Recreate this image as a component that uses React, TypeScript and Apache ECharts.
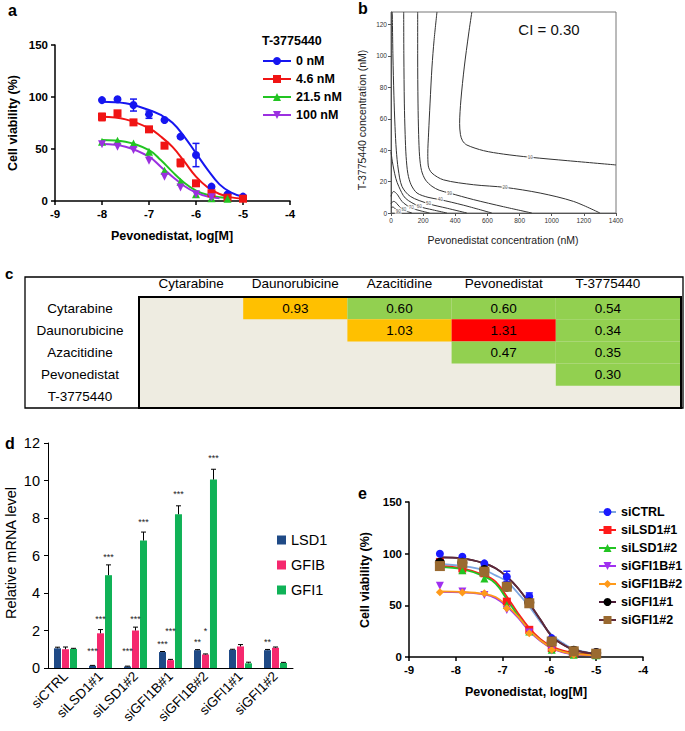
import React, { useEffect, useRef } from "react";
import * as echarts from "echarts";

const FONT = "'Liberation Sans', Arial, Helvetica, sans-serif";

// ---------- Panel a ----------
const aDoseX = [-8, -7.67, -7.33, -7, -6.67, -6.33, -6, -5.67, -5.33, -5];
const aNames = ["0 nM", "4.6 nM", "21.5 nM", "100 nM"];
const aColors = ["#1616F0", "#F01414", "#22C422", "#9B30E0"];
const aSymbols = ["circle", "rect", "triangle", "triangle"];
const aRotate = [0, 0, 0, 180];
const aPoints = [
  [97, 97.8, 92.3, 83.3, 77.9, 61.9, 44.2, 13.8, 6.4, 4.2],
  [81, 84.3, 75.6, 68.9, 53.2, 36.9, 17, 7.4, 3.2, 2.2],
  [57, 58, 55.4, 47.4, 29.2, 18.6, 6.4, 2.6, 2.2, null],
  [54.5, 52.2, 49, 38.8, 23.4, 13.1, 6.4, 3.5, null, null],
];
const aFitX = [-8, -7.5, -7, -6.75, -6.5, -6.25, -6, -5.75, -5.5, -5.25, -5];
const aFits = [
  [95.5, 94, 87.5, 82.7, 75.3, 62, 46, 30, 16, 8, 4],
  [81, 78.5, 70, 62, 52, 38, 23.4, 13, 6.7, 3.5, 2.2],
  [58.7, 57, 49, 39.4, 28, 17.6, 10, 5.8, 3.5, 2.6, null],
  [54.8, 52.2, 42.6, 33, 23.4, 14.4, 8, 4.2, 2.6, null, null],
];
// [x, low, high] per series
const aErrors = [
  [[-7.33, 86.5, 98], [-7, 79.5, 86.5], [-6, 33, 55.4]],
  [[-8, 77.2, 84.3], [-6.33, 33, 40]],
  [],
  [],
];

// ---------- Panel b (contours) ----------
const bLevels = ["10", "20", "30", "40", "50", "60", "70", "80", "90"];
const bContours = [
  [[503, 128], [483, 114], [456, 93], [435, 72], [427, 57], [432, 50], [445, 46], [472, 43.3], [576, 39.7], [700, 37.5], [866, 35.5], [1100, 33.3], [1400, 30.6]],
  [[286, 128], [268, 110], [255, 93], [243, 70], [234, 51], [229, 38], [232, 30], [255, 25.4], [327, 21.1], [514, 18], [710, 16.3], [928, 12.7], [1135, 7.4], [1300, 0]],
  [[166, 128], [166, 100], [168, 70], [172, 50], [178, 36], [190, 27], [215, 21], [255, 17], [300, 14.5], [364, 12.7], [514, 8.5], [700, 4], [876, 0]],
  [[79, 128], [80, 100], [83, 70], [88, 50], [94, 36], [105, 25], [125, 18], [162, 12.7], [230, 10], [306, 8.5], [450, 5], [627, 0]],
  [[8, 128], [12, 100], [18, 75], [25, 55], [33, 40], [45, 28], [68, 17], [120, 10.6], [234, 5.9], [350, 3], [472, 0]],
  [[0, 39], [8, 33], [17, 28], [30, 22], [48, 17], [89, 9.5], [176, 4.2], [260, 2], [348, 0]],
  [[0, 10.6], [8, 13], [17, 13.7], [28, 13], [41, 11.6], [60, 8.5], [79, 6.3], [126, 3.2], [180, 1.5], [240, 0]],
  [[0, 5.9], [8, 7], [17, 7.4], [27, 7], [37, 5.9], [68, 2.5], [100, 1], [130, 0]],
  [[0, 3.2], [6, 3.7], [12, 3.8], [22, 3.2], [37, 1.7], [68, 0]],
];
const bLabelAt = [[866, 35.5], [710, 16.3], [364, 12.7], [306, 8.5], [234, 5.9], [176, 4.2], [126, 3.2], [80, 2], [45, 1.1]];

// ---------- Panel c (table) ----------
const drugs = ["Cytarabine", "Daunorubicine", "Azacitidine", "Pevonedistat", "T-3775440"];
// [row, col, CI]
const ciValues = [
  [0, 1, 0.93], [0, 2, 0.6], [0, 3, 0.6], [0, 4, 0.54],
  [1, 2, 1.03], [1, 3, 1.31], [1, 4, 0.34],
  [2, 3, 0.47], [2, 4, 0.35],
  [3, 4, 0.3],
];

// ---------- Panel d (bars) ----------
const dCats = ["siCTRL", "siLSD1#1", "siLSD1#2", "siGFI1B#1", "siGFI1B#2", "siGFI1#1", "siGFI1#2"];
const dNames = ["LSD1", "GFIB", "GFI1"];
const dColors = ["#1F4A86", "#F5286E", "#10B257"];
const dValues = [
  [1.05, 0.12, 0.08, 0.85, 0.95, 0.97, 0.95],
  [1.0, 1.85, 2.0, 0.42, 0.72, 1.15, 1.08],
  [1.02, 4.95, 6.8, 8.2, 10.05, 0.25, 0.27],
];
const dErrors = [
  [0.06, 0.02, 0.02, 0.03, 0.03, 0.03, 0.04],
  [0.12, 0.2, 0.18, 0.04, 0.03, 0.1, 0.04],
  [0.03, 0.55, 0.45, 0.45, 0.55, 0.06, 0.03],
];
const dStars = [
  ["", "***", "***", "***", "**", "", "**"],
  ["", "***", "***", "***", "*", "", ""],
  ["", "***", "***", "***", "***", "", ""],
];
const dStarY = [
  [0, 0.9, 0.9, 1.3, 1.4, 0, 1.4],
  [0, 2.6, 2.6, 2.0, 2.0, 0, 0],
  [0, 5.9, 7.8, 9.3, 11.2, 0, 0],
];

// ---------- Panel e ----------
const eDoseX = [-8.34, -7.86, -7.39, -6.91, -6.43, -5.95, -5.48, -5.0];
const eNames = ["siCTRL", "siLSD1#1", "siLSD1#2", "siGFI1B#1", "siGFI1B#2", "siGFI1#1", "siGFI1#2"];
const eColors = ["#1A1AFF", "#FF1A1A", "#22C422", "#A030F0", "#FF9A1A", "#000000", "#9A6A30"];
const eFitColors = ["#7EA6E0", "#FF1A1A", "#22C422", "#A030F0", "#FF9A1A", "#4A1A35", "#5E2A3A"];
const eSymbols = ["circle", "rect", "triangle", "triangle", "diamond", "circle", "rect"];
const eRotate = [0, 0, 0, 180, 0, 0, 0];
const eSizes = [8, 8, 8, 8, 8, 10, 10];
const ePoints = [
  [100, 97, 90.6, 77.7, 58.5, 18.3, 6.4, 4.8],
  [92, 85.8, 81, 53.6, 26.3, 8.7, 2.9, 2.2],
  [89, 84, 76, 50.4, 24.7, 7, 2.2, 1.6],
  [69, 63.3, 60, 45.6, 23.8, 6.4, 2.2, 1.9],
  [62.6, 62.3, 61.7, 47.2, 23.1, 7.1, 2.2, 1.9],
  [91.2, 91.2, 84.2, 68.1, 52.7, 15.1, 6.1, 3.9],
  [88, 90.6, 82.6, 68, 52, 15, 5.5, 3.2],
];
const eFitX = [-8.34, -7.86, -7.39, -7.15, -6.91, -6.67, -6.43, -6.19, -5.95, -5.71, -5.48, -5.0];
const eFits = [
  [90, 88, 84, 79, 73, 61.7, 49, 34, 21.5, 13.5, 7.7, 3.2],
  [88, 85.8, 79.3, 73, 58.5, 42.4, 28, 17.3, 10.3, 6.1, 3.9, 1.9],
  [87, 85, 78, 71, 56, 40, 26, 16, 9, 5, 3, 1.5],
  [63, 62.5, 60.5, 57, 49, 38, 25, 15.5, 8.5, 4.5, 2.5, 1.5],
  [63.5, 63, 61, 58, 50, 39, 26, 16, 9, 5, 3, 1.5],
  [96.4, 95.4, 90.6, 85.8, 77.7, 66.5, 52, 36, 20, 12, 7, 3],
  [96.4, 95.4, 90.6, 85.8, 77.7, 66.5, 52, 36, 20, 12, 7, 3],
];
const eErrors = [
  [[-6.91, 73, 83], [-6.43, 53, 62]],
  [[-7.86, 81, 90]],
  [], [], [], [], [],
];

function pairs(xs: number[], ys: (number | null)[]) {
  const out: number[][] = [];
  xs.forEach((x, i) => {
    const y = ys[i];
    if (y !== null && y !== undefined) out.push([x, y]);
  });
  return out;
}

function errorSeries(data: number[][], color: string, xi: number) {
  return {
    type: "custom",
    xAxisIndex: xi,
    yAxisIndex: xi,
    data,
    encode: { x: 0, y: [1, 2] },
    clip: false,
    z: 4,
    renderItem: (_p: any, api: any) => {
      const x = api.value(0);
      const lo = api.coord([x, api.value(1)]);
      const hi = api.coord([x, api.value(2)]);
      const w = 3.5;
      const st = { stroke: color, lineWidth: 1.5 };
      return {
        type: "group",
        children: [
          { type: "line", shape: { x1: lo[0], y1: lo[1], x2: hi[0], y2: hi[1] }, style: st },
          { type: "line", shape: { x1: hi[0] - w, y1: hi[1], x2: hi[0] + w, y2: hi[1] }, style: st },
          { type: "line", shape: { x1: lo[0] - w, y1: lo[1], x2: lo[0] + w, y2: lo[1] }, style: st },
        ],
      };
    },
  };
}

function doseAxes(idx: number) {
  const x = {
    type: "value", gridIndex: idx, min: -9, max: -4, interval: 1,
    axisLine: { onZero: false, lineStyle: { color: "#000", width: 1.5 } },
    axisTick: { length: 4, lineStyle: { color: "#000", width: 1.5 } },
    axisLabel: { color: "#000", fontWeight: "bold", fontSize: 11.5, fontFamily: FONT, margin: 7 },
    splitLine: { show: false },
  };
  const y = {
    type: "value", gridIndex: idx, min: 0, max: 150, interval: 50,
    axisLine: { show: true, onZero: false, lineStyle: { color: "#000", width: 1.5 } },
    axisTick: { show: true, length: 4, lineStyle: { color: "#000", width: 1.5 } },
    axisLabel: { color: "#000", fontWeight: "bold", fontSize: 11.5, fontFamily: FONT, margin: 7 },
    splitLine: { show: false },
  };
  return [x, y];
}

function txt(x: number, y: number, text: string, o: any = {}) {
  return {
    type: "text", x, y, rotation: o.rotation || 0, z: 100,
    style: {
      text, fill: o.fill || "#000", fontSize: o.fontSize || 12, fontWeight: o.fontWeight || "normal",
      fontFamily: FONT, align: o.align || "center", verticalAlign: o.verticalAlign || "middle",
    },
  };
}

const TABLE_LAST_EXTRA = 21; // last column of the table is wider

export default function App() {
  const ref = useRef<HTMLDivElement>(null);
  useEffect(() => {
    if (!ref.current) return;
    const chart = echarts.init(ref.current, null, { renderer: "svg" });
    const [ax, ay] = doseAxes(0);
    const [ex, ey] = doseAxes(4);

    const series: any[] = [];
    // Panel a
    aNames.forEach((name, i) => {
      series.push({
        type: "line", name, xAxisIndex: 0, yAxisIndex: 0, data: pairs(aFitX, aFits[i]),
        smooth: 0.4, showSymbol: false, symbol: aSymbols[i], symbolRotate: aRotate[i], symbolSize: 8,
        itemStyle: { color: aColors[i] }, lineStyle: { color: aColors[i], width: 2 }, z: 2,
      });
    });
    aNames.forEach((name, i) => {
      series.push({
        type: "scatter", name: name + " data", xAxisIndex: 0, yAxisIndex: 0, data: pairs(aDoseX, aPoints[i]),
        symbol: aSymbols[i], symbolRotate: aRotate[i], symbolSize: 8, itemStyle: { color: aColors[i], opacity: 1 }, z: 5,
      });
      if (aErrors[i].length) series.push(errorSeries(aErrors[i], aColors[i], 0));
    });
    // Panel b
    bContours.forEach((c, i) => {
      series.push({
        type: "line", name: "contour " + bLevels[i], xAxisIndex: 1, yAxisIndex: 1, data: c,
        smooth: 0.3, showSymbol: false, symbol: "none", lineStyle: { color: "#333", width: 1 }, z: 2,
      });
    });
    series.push({
      type: "scatter", name: "contour labels", xAxisIndex: 1, yAxisIndex: 1,
      data: bLabelAt.map((p, i) => ({ value: p, name: bLevels[i] })), symbolSize: 0,
      label: { show: true, position: "inside", formatter: (p: any) => p.name, fontSize: 4.5, color: "#333", backgroundColor: "#fff", padding: [0, 1] },
      z: 6,
    });
    // Panel c
    series.push({
      type: "custom", name: "CI table", xAxisIndex: 2, yAxisIndex: 2,
      data: ciValues.map((r) => [r[1], r[0], r[2]]),
      encode: { x: 0, y: 1 }, z: 5, clip: false,
      renderItem: (_p: any, api: any) => {
        const col = api.value(0);
        const c = api.coord([col, api.value(1)]);
        const s = api.size([1, 1]);
        const v = api.value(2);
        const color = v > 1.1 ? "#FF0000" : v >= 0.9 ? "#FFC000" : "#92D050";
        const w = s[0] + (col === drugs.length - 1 ? TABLE_LAST_EXTRA : 0);
        return {
          type: "group",
          children: [
            { type: "rect", shape: { x: c[0] - s[0] / 2, y: c[1] - s[1] / 2, width: w, height: s[1] }, style: { fill: color } },
            { type: "text", x: c[0], y: c[1], style: { text: v.toFixed(2), fill: "#000", fontSize: 13.5, fontFamily: FONT, align: "center", verticalAlign: "middle" } },
          ],
        };
      },
    });
    // Panel d
    const offs = [-8, 0, 8];
    dNames.forEach((name, si) => {
      series.push({
        type: "bar", name, xAxisIndex: 3, yAxisIndex: 3, data: dValues[si], barWidth: 7, barGap: "14%",
        itemStyle: { color: dColors[si] }, z: 2,
      });
    });
    dNames.forEach((name, si) => {
      series.push({
        type: "custom", name: name + " err", xAxisIndex: 3, yAxisIndex: 3,
        data: dValues[si].map((v, i) => [i, v, v + dErrors[si][i], dStarY[si][i]]),
        encode: { x: 0, y: [1, 2] }, clip: false, z: 4,
        renderItem: (_p: any, api: any) => {
          const i = api.value(0);
          const b = api.coord([i, api.value(1)]);
          const t = api.coord([i, api.value(2)]);
          const sy = api.coord([i, api.value(3)]);
          const x = b[0] + offs[si];
          const st = { stroke: "#000", lineWidth: 1 };
          const children: any[] = [
            { type: "line", shape: { x1: x, y1: b[1], x2: x, y2: t[1] }, style: st },
            { type: "line", shape: { x1: x - 2.5, y1: t[1], x2: x + 2.5, y2: t[1] }, style: st },
          ];
          const s = dStars[si][i];
          if (s) children.push({ type: "text", x, y: sy[1], style: { text: s, fill: "#222", fontSize: 9, fontFamily: FONT, align: "center", verticalAlign: "middle" } });
          return { type: "group", children };
        },
      });
    });
    // Panel e
    eNames.forEach((name, i) => {
      series.push({
        type: "line", name, xAxisIndex: 4, yAxisIndex: 4, data: pairs(eFitX, eFits[i]),
        smooth: 0.4, showSymbol: false, symbol: eSymbols[i], symbolRotate: eRotate[i], symbolSize: 8,
        itemStyle: { color: eColors[i] }, lineStyle: { color: eFitColors[i], width: 1.8 }, z: 2,
      });
    });
    eNames.forEach((name, i) => {
      series.push({
        type: "scatter", name: name + " data", xAxisIndex: 4, yAxisIndex: 4, data: pairs(eDoseX, ePoints[i]),
        symbol: eSymbols[i], symbolRotate: eRotate[i], symbolSize: eSizes[i], itemStyle: { color: eColors[i], opacity: 1 }, z: 5,
      });
      if (eErrors[i].length) series.push(errorSeries(eErrors[i], eColors[i], 4));
    });

    const boldLegendText = { color: "#000", fontWeight: "bold", fontSize: 12.5, fontFamily: FONT, lineHeight: 14 };

    const option: any = {
      animation: false,
      backgroundColor: "#fff",
      textStyle: { fontFamily: FONT },
      grid: [
        { left: 55, top: 45, width: 235, height: 156 },
        { left: 391, top: 12, width: 225, height: 201, show: true, borderColor: "#777", borderWidth: 1 },
        { left: 139, top: 297, width: 521, height: 111, show: true, backgroundColor: "#EEECE1", borderWidth: 0 },
        { left: 48, top: 443, width: 245, height: 225 },
        { left: 409, top: 502, width: 234, height: 155 },
      ].map((g) => ({ containLabel: false, outerBoundsMode: "none", ...g })),
      xAxis: [
        ax,
        {
          type: "value", gridIndex: 1, min: 0, max: 1400, interval: 200,
          axisLine: { onZero: false, lineStyle: { color: "#555", width: 1 } },
          axisTick: { length: 3, lineStyle: { color: "#555" } },
          axisLabel: { color: "#333", fontSize: 6.5, margin: 4, fontFamily: FONT, formatter: (v: number) => String(v) },
          splitLine: { show: false },
        },
        {
          type: "category", gridIndex: 2, data: drugs, position: "top",
          axisLine: { show: false }, axisTick: { show: false },
          axisLabel: { color: "#000", fontSize: 13.5, margin: 7, interval: 0, fontFamily: FONT },
          splitLine: { show: false },
        },
        {
          type: "category", gridIndex: 3, data: dCats,
          axisLine: { lineStyle: { color: "#000", width: 1 } },
          axisTick: { length: 4, lineStyle: { color: "#000" } },
          axisLabel: { color: "#000", fontSize: 13.5, rotate: 45, margin: 6, interval: 0, fontFamily: FONT },
        },
        ex,
      ],
      yAxis: [
        ay,
        {
          type: "value", gridIndex: 1, min: 0, max: 128, interval: 20,
          axisLine: { show: true, onZero: false, lineStyle: { color: "#555", width: 1 } },
          axisTick: { show: true, length: 3, lineStyle: { color: "#555" } },
          axisLabel: { color: "#333", fontSize: 6.5, margin: 4, showMaxLabel: false, fontFamily: FONT },
          splitLine: { show: false },
        },
        {
          type: "category", gridIndex: 2, data: drugs, inverse: true,
          axisLine: { show: false }, axisTick: { show: false },
          axisLabel: { color: "#000", fontSize: 13.5, align: "center", margin: 59, interval: 0, fontFamily: FONT },
          splitLine: { show: false },
        },
        {
          type: "value", gridIndex: 3, min: 0, max: 12, interval: 2,
          axisLine: { show: true, lineStyle: { color: "#000", width: 1 } },
          axisTick: { show: true, length: 4, lineStyle: { color: "#000" } },
          axisLabel: { color: "#000", fontSize: 14.5, margin: 8, fontFamily: FONT },
          splitLine: { show: false },
        },
        ey,
      ],
      legend: [
        {
          data: aNames, left: 262, top: 54, orient: "vertical", itemWidth: 28, itemHeight: 10, itemGap: 4,
          selectedMode: false, textStyle: boldLegendText, padding: 0,
        },
        {
          data: dNames, left: 277, top: 532, orient: "vertical", icon: "rect", itemWidth: 9, itemHeight: 9, itemGap: 9,
          selectedMode: false, textStyle: { color: "#000", fontSize: 14.5, fontFamily: FONT, lineHeight: 16 }, padding: 0,
        },
        {
          data: eNames, left: 598, top: 505, orient: "vertical", itemWidth: 17, itemHeight: 10, itemGap: 4,
          selectedMode: false, textStyle: boldLegendText, padding: 0,
        },
      ],
      graphic: [
        {
          type: "rect", z: 1, shape: { x: 660, y: 297, width: TABLE_LAST_EXTRA, height: 111 },
          style: { fill: "#EEECE1" },
        },
        txt(8, 10, "a", { fontSize: 16, fontWeight: "bold", align: "left" }),
        txt(358, 8, "b", { fontSize: 16, fontWeight: "bold", align: "left" }),
        txt(5, 273, "c", { fontSize: 15, fontWeight: "bold", align: "left" }),
        txt(5, 443, "d", { fontSize: 16, fontWeight: "bold", align: "left" }),
        txt(358, 493, "e", { fontSize: 16, fontWeight: "bold", align: "left" }),
        txt(13, 123, "Cell viability (%)", { fontSize: 12.5, fontWeight: "bold", rotation: Math.PI / 2 }),
        txt(172, 236, "Pevonedistat, log[M]", { fontSize: 12.5, fontWeight: "bold" }),
        txt(262, 41, "T-3775440", { fontSize: 12.5, fontWeight: "bold", align: "left" }),
        txt(362, 120, "T-3775440 concentration (nM)", { fontSize: 10.5, fill: "#222", rotation: Math.PI / 2 }),
        txt(503, 240, "Pevonedistat concentration (nM)", { fontSize: 10.5, fill: "#222" }),
        txt(549, 29, "CI = 0.30", { fontSize: 15, fill: "#111" }),
        {
          type: "rect", z: 100, shape: { x: 25, y: 277, width: 658, height: 131 },
          style: { fill: "none", stroke: "#000", lineWidth: 1.3 },
        },
        {
          type: "rect", z: 100, shape: { x: 139, y: 297, width: 542, height: 111 },
          style: { fill: "none", stroke: "#000", lineWidth: 2 },
        },
        txt(11, 553, "Relative mRNA level", { fontSize: 14.5, rotation: Math.PI / 2 }),
        txt(365, 580, "Cell viability (%)", { fontSize: 12.5, fontWeight: "bold", rotation: Math.PI / 2 }),
        txt(526, 692, "Pevonedistat, log[M]", { fontSize: 12.5, fontWeight: "bold" }),
      ],
      series,
    };
    chart.setOption(option);
    return () => chart.dispose();
  }, []);
  return <div ref={ref} style={{ position: "fixed", left: 0, top: 0, width: 685, height: 731, background: "#fff" }} />;
}
